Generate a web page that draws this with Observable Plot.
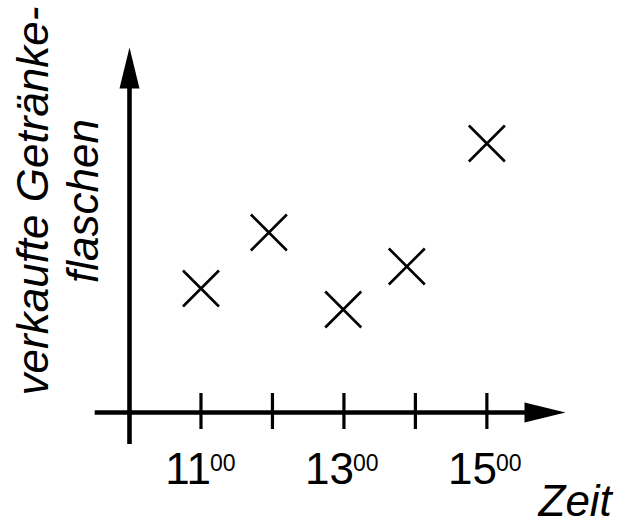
<!DOCTYPE html>
<html>
<head>
<meta charset="utf-8">
<script src="https://cdn.jsdelivr.net/npm/d3@7"></script>
<script src="https://cdn.jsdelivr.net/npm/@observablehq/plot@0.6"></script>
<style>
  html, body { margin: 0; padding: 0; background: #fff; }
</style>
</head>
<body>
<div id="chart"></div>
<script>
// Data
const hours = [11, 11.95, 12.99, 13.88, 15.0];      // Zeit (Uhr)
const sold  = [124, 180, 103, 146, 269];            // verkaufte Getränkeflaschen (arbitrary units)
const tickHours  = [11, 12, 13, 14, 15];
const labelHours = [11, 13, 15];
const yLabelLine1 = "verkaufte Getränke-";
const yLabelLine2 = "flaschen";
const xLabel = "Zeit";

const points = hours.map((h, i) => ({h, v: sold[i]}));

const font = "'Liberation Sans', Arial, Helvetica, sans-serif";

const cross = {
  draw(ctx, size) {
    const h = Math.sqrt(size / Math.PI);
    ctx.moveTo(-h, -h); ctx.lineTo(h, h);
    ctx.moveTo(-h, h);  ctx.lineTo(h, -h);
  }
};
const arrowHead = {
  draw(ctx) {
    ctx.moveTo(0, 0); ctx.lineTo(-10, 41); ctx.lineTo(10, 41); ctx.closePath();
  }
};

const chart = Plot.plot({
  width: 620,
  height: 531,
  marginLeft: 129,
  marginRight: 55,
  marginTop: 47,
  marginBottom: 119,
  style: {fontFamily: font, background: "#fff", color: "#000"},
  x: {domain: [10, 16.1], axis: null},
  y: {domain: [0, 365], axis: null},
  marks: [
    // y axis
    Plot.ruleX([10], {y1: -32, y2: 330, stroke: "#000", strokeWidth: 4.6}),
    Plot.dot([{x: 10, y: 365}], {x: "x", y: "y", symbol: arrowHead, r: 10, fill: "#000", stroke: "none"}),
    // x axis
    Plot.ruleY([0], {x1: 9.52, x2: 15.6, stroke: "#000", strokeWidth: 4.6}),
    Plot.dot([{x: 16.1, y: 0}], {x: "x", y: "y", symbol: arrowHead, r: 10, rotate: 90, fill: "#000", stroke: "none"}),
    // ticks
    Plot.ruleX(tickHours, {x: d => d, y1: -17, y2: 19, stroke: "#000", strokeWidth: 3.2}),
    // tick labels with superscript minutes
    Plot.text(labelHours, {x: d => d, y: 0, text: d => String(d), textAnchor: "end", lineAnchor: "bottom",
      dx: 10, dy: 71, fontSize: 44, fill: "#000"}),
    Plot.text(labelHours, {x: d => d, y: 0, text: () => "00", textAnchor: "start", lineAnchor: "bottom",
      dx: 9, dy: 58, fontSize: 23, fill: "#000"}),
    // data points
    Plot.dot(points, {x: "h", y: "v", symbol: cross, r: 18, stroke: "#000", strokeWidth: 2.6, fill: "none"}),
    // axis labels
    Plot.text([xLabel], {frameAnchor: "bottom-right", textAnchor: "start", lineAnchor: "bottom",
      dx: -27, dy: 103, fontSize: 44, fontStyle: "italic", fill: "#000"}),
    Plot.text([yLabelLine1], {frameAnchor: "left", rotate: -90, textAnchor: "middle", lineAnchor: "bottom",
      dx: -82, dy: -29, fontSize: 44, fontStyle: "italic", fill: "#000"}),
    Plot.text([yLabelLine2], {frameAnchor: "left", rotate: -90, textAnchor: "middle", lineAnchor: "bottom",
      dx: -32, dy: -29, fontSize: 44, fontStyle: "italic", fill: "#000"})
  ]
});
document.getElementById("chart").appendChild(chart);
</script>
</body>
</html>
